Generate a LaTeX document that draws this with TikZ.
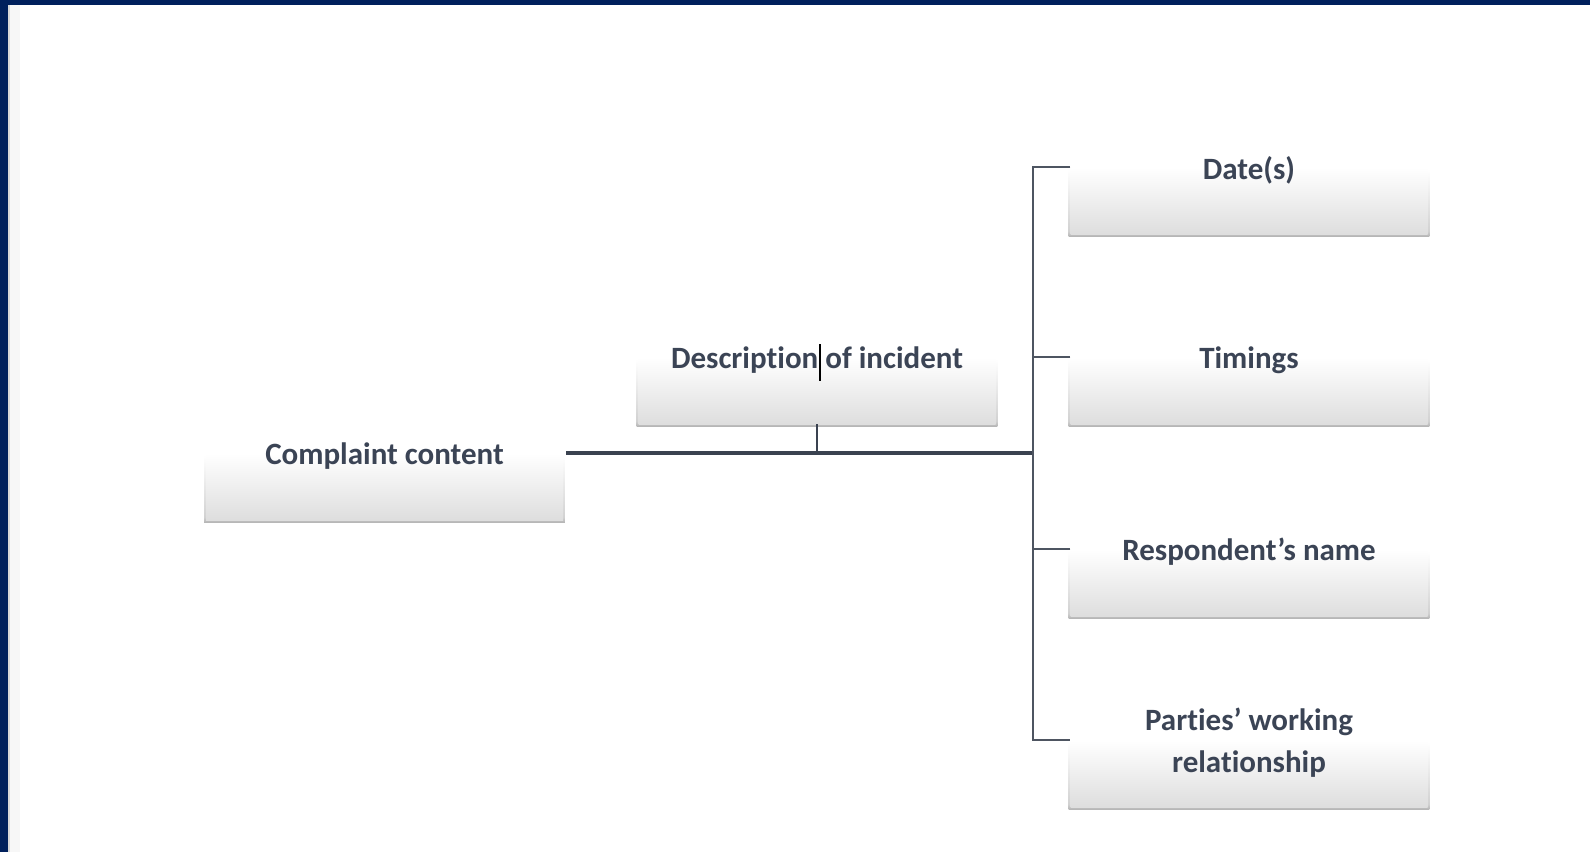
\documentclass[tikz,border=0pt]{standalone}
\usepackage{fontspec}
\setmainfont{Carlito}[Ligatures=NoCommon]
\usetikzlibrary{shadows}
\definecolor{navy}{HTML}{00205C}
\definecolor{txt}{HTML}{3B4455}
\definecolor{ln}{HTML}{3A4250}
\pgfdeclareverticalshading{boxshade}{100bp}{color(0bp)=(black!13); color(25bp)=(black!13); color(50bp)=(white); color(100bp)=(white)}
\pgfdeclareverticalshading{shadowshade}{100bp}{color(0bp)=(black!30); color(25bp)=(black!30); color(27bp)=(black!18); color(50bp)=(white); color(100bp)=(white)}
\tikzset{
  box/.style={rectangle, minimum width=357pt, minimum height=134pt, inner sep=0pt,
    shading=boxshade,
    general shadow={shading=shadowshade, shadow xshift=0pt, shadow yshift=-2pt, shadow scale=1.01}},
  boxtext/.style={text=txt, align=center, inner sep=0pt, font=\bfseries\fontsize{31}{42}\selectfont},
  mainline/.style={draw=ln, line width=4pt},
  bracket/.style={draw=ln!90, line width=2.5pt},
  thinline/.style={draw=ln, line width=1.5pt}
}
\begin{document}
\begin{tikzpicture}[x=1pt,y=-1pt]
\useasboundingbox (0,0) rectangle (1590,852);
\fill[white] (0,0) rectangle (1590,852);
\fill[navy] (0,0) rectangle (1590,5);
\fill[navy] (0,0) rectangle (8,852);
\fill[black!15] (8,5) rectangle (10,852);
\fill[black!3] (10,5) rectangle (20,852);

\node[box] (cc) at (384.5,453) {};
\node[box] (desc) at (817,357) {};
\node[box] (d1) at (1249,167) {};
\node[box] (d2) at (1249,357) {};
\node[box] (d3) at (1249,549) {};
\node[box] (d4) at (1249,740) {};

\node[boxtext] (tcc) at ([yshift=-3pt]cc.center) {Complaint content};
\node[boxtext] (tdesc) at ([yshift=-3pt]desc.center) {Description of incident};
\node[boxtext] (t1) at ([yshift=-3pt]d1.center) {Date(s)};
\node[boxtext] (t2) at ([yshift=-3pt]d2.center) {Timings};
\node[boxtext] (t3) at ([yshift=-3pt]d3.center) {Respondent’s name};
\node[boxtext] (t4) at ([yshift=-3pt]d4.center) {Parties’ working\\relationship};

\coordinate (hub) at (1033,453);
\draw[mainline] ([xshift=3pt]cc.east) -- (hub);
\draw[thinline] (desc.south) -- (desc.south |- hub);
\draw[bracket] (d1.west) -- (d1.west -| hub) -- (d4.west -| hub) -- (d4.west);
\draw[bracket] (d2.west) -- (d2.west -| hub);
\draw[bracket] (d3.west) -- (d3.west -| hub);
\draw[black, line width=1.5pt] (820,344) -- (820,381);
\end{tikzpicture}
\end{document}
